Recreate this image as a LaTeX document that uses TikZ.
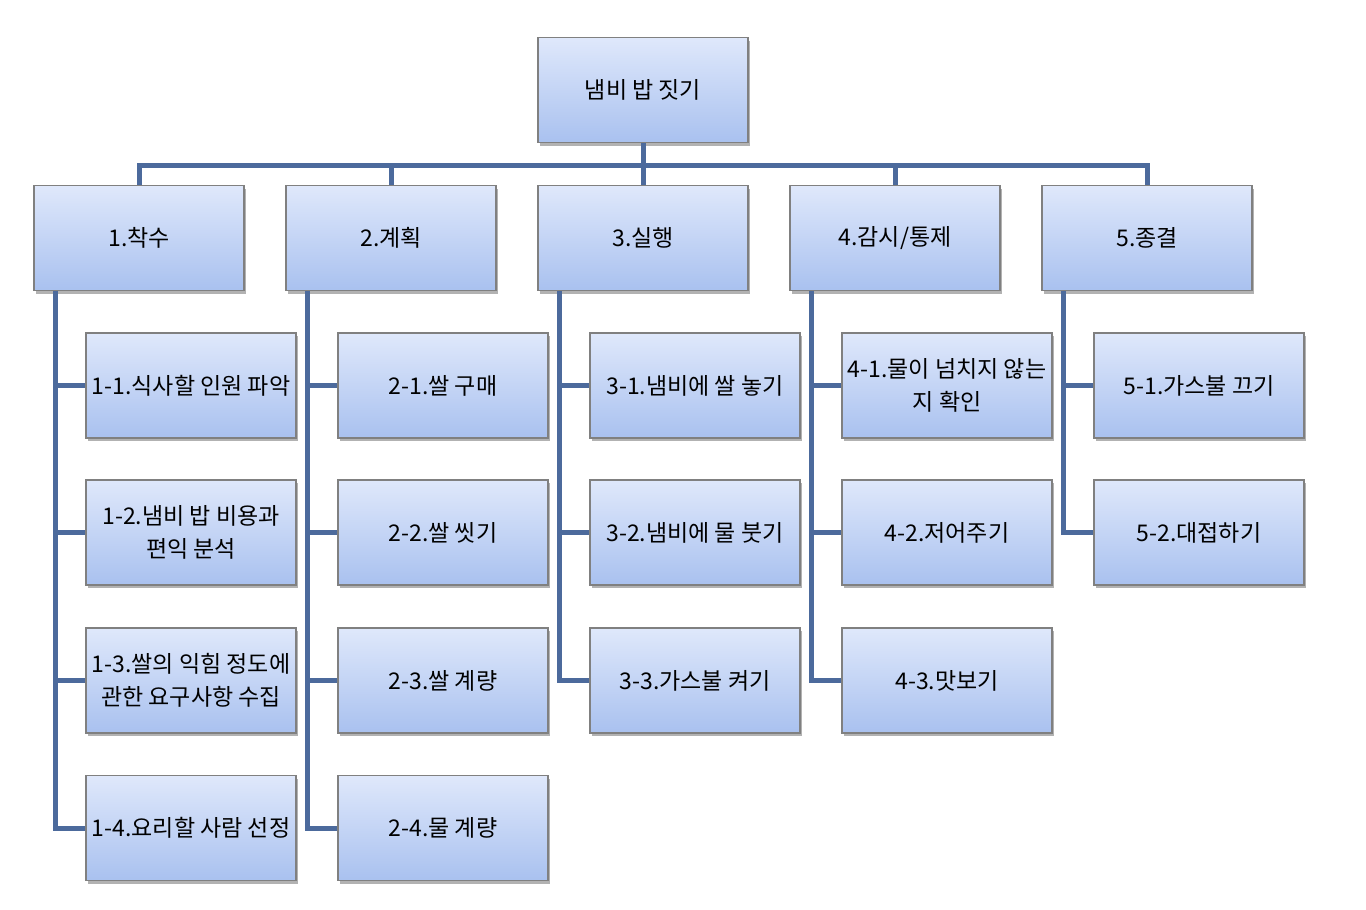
\documentclass[tikz,border=0pt]{standalone}
\usepackage{fontspec}
\setmainfont{Noto Sans CJK KR}
\usetikzlibrary{positioning, shadows}
\definecolor{cline}{HTML}{4C6A9C}
\definecolor{ctop}{HTML}{DFE8FB}
\definecolor{cbot}{HTML}{A9C1EF}
\definecolor{cborder}{HTML}{808080}

\begin{document}
\begin{tikzpicture}[x=1pt, y=-1pt,
  task/.style={draw=cborder, line width=1.2pt, top color=ctop, bottom color=cbot,
    minimum width=210pt, minimum height=105pt, inner sep=1pt, align=center,
    font=\fontsize{23}{33}\selectfont,
    drop shadow={shadow xshift=2pt, shadow yshift=-3pt, opacity=0.3, fill=black}},
  link/.style={cline, line width=5pt, line join=miter}]
  \useasboundingbox (0,0) rectangle (1366,910);

  % top
  \node[task] (root) at (643,90) {냄비 밥 짓기};
  \coordinate (bus) at (643,165);

  % phases
  \foreach \i/\x/\t in {1/139/1.착수, 2/391/2.계획, 3/643/3.실행, 4/895/{4.감시/통제}, 5/1147/5.종결}{
    \node[task] (p\i) at (\x,238) {\t};
  }

  % work packages
  \node[task] (c11) at (191,385.5) {1-1.식사할 인원 파악};
  \node[task] (c12) at (191,532.5) {1-2.냄비 밥 비용과\\편익 분석};
  \node[task] (c13) at (191,680.5) {1-3.쌀의 익힘 정도에\\관한 요구사항 수집};
  \node[task] (c14) at (191,828) {1-4.요리할 사람 선정};
  \node[task] (c21) at (443,385.5) {2-1.쌀 구매};
  \node[task] (c22) at (443,532.5) {2-2.쌀 씻기};
  \node[task] (c23) at (443,680.5) {2-3.쌀 계량};
  \node[task] (c24) at (443,828) {2-4.물 계량};
  \node[task] (c31) at (695,385.5) {3-1.냄비에 쌀 놓기};
  \node[task] (c32) at (695,532.5) {3-2.냄비에 물 붓기};
  \node[task] (c33) at (695,680.5) {3-3.가스불 켜기};
  \node[task] (c41) at (947,385.5) {4-1.물이 넘치지 않는\\지 확인};
  \node[task] (c42) at (947,532.5) {4-2.저어주기};
  \node[task] (c43) at (947,680.5) {4-3.맛보기};
  \node[task] (c51) at (1199,385.5) {5-1.가스불 끄기};
  \node[task] (c52) at (1199,532.5) {5-2.대접하기};

  % connectors
  \foreach \i in {1,...,5}{
    \draw[link] (root.south) |- (bus -| p\i.north) -- (p\i.north);
  }
  \foreach \i/\n in {1/4, 2/4, 3/3, 4/3, 5/2}{
    \foreach \k in {1,...,\n}{
      \draw[link] ([xshift=22pt]p\i.south west) |- (c\i\k.west);
    }
  }
\end{tikzpicture}
\end{document}
